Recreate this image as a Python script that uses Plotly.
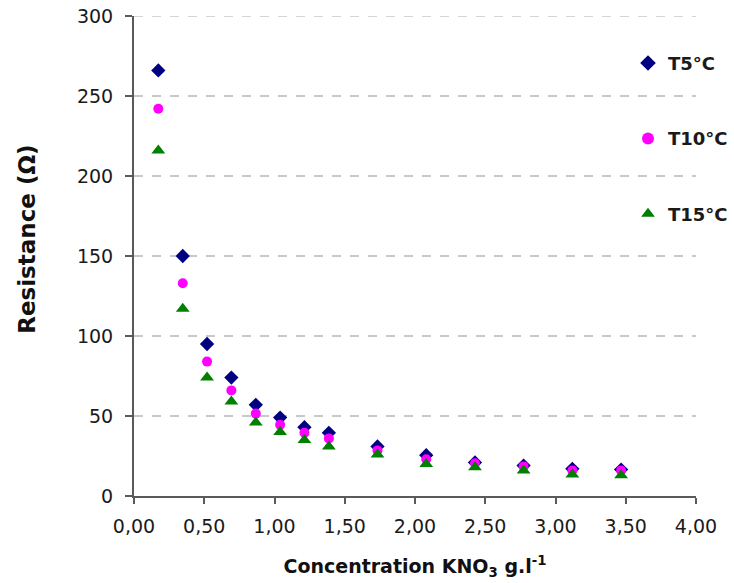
import plotly.graph_objects as go

# Concentration of KNO3 (g/l)
concentration = [0.173, 0.347, 0.520, 0.693, 0.867, 1.040, 1.213, 1.387,
                 1.733, 2.080, 2.427, 2.773, 3.120, 3.467]

# Measured resistance (ohm) at three temperatures
r_t5 = [266, 150, 95, 74, 57, 49, 43, 39.5, 31, 25.5, 21, 19, 17, 16.5]
r_t10 = [242, 133, 84, 66, 51.5, 44.5, 39.5, 36, 28.5, 23, 20.5, 18.5, 16, 16]
r_t15 = [216, 117, 74, 59, 46, 40, 35, 31, 26, 20, 18, 16, 13.5, 13]

series_names = ["T5°C", "T10°C", "T15°C"]
symbols = ["diamond", "circle", "triangle-up"]
colors = ["#000080", "#FF00FF", "#008000"]
sizes = [11, 10, 12]

x_ticks = [0, 0.5, 1, 1.5, 2, 2.5, 3, 3.5, 4]
y_ticks = [0, 50, 100, 150, 200, 250, 300]

FONT = "DejaVu Sans, Arial, sans-serif"
TEXT = "#1a1a1a"
AXIS = "#5a5a5a"
GRID = "#c8c8c8"

W, H = 734, 583
M = dict(l=134, r=38, t=16, b=86.5)

fig = go.Figure()
for name, vals, sym, col, sz in zip(series_names, [r_t5, r_t10, r_t15], symbols, colors, sizes):
    fig.add_trace(go.Scatter(
        x=concentration, y=vals, name=name, mode="markers",
        legendgroup=name,
        marker=dict(symbol=sym, size=sz, color=col, line=dict(width=0)),
    ))

# dashed gridline along the top of the value range
fig.add_hline(y=y_ticks[-1], line=dict(color=GRID, width=1.5, dash="dash"), layer="below")

# vertical axis title, placed in paper coordinates
plot_h = H - M["t"] - M["b"]
plot_w = W - M["l"] - M["r"]
fig.add_annotation(
    text="<b>Resistance (Ω)</b>", textangle=-90,
    xref="paper", yref="paper",
    x=(27 - M["l"]) / plot_w, y=(H - M["b"] - 240) / plot_h,
    xanchor="center", yanchor="middle", showarrow=False,
    font=dict(family=FONT, size=23, color="#111111"),
)

fig.update_layout(
    width=W, height=H,
    margin=dict(**M, autoexpand=False),
    paper_bgcolor="white", plot_bgcolor="white",
    separators=", ",
    font=dict(family=FONT, size=19, color=TEXT),
    showlegend=True,
    legend=dict(
        x=0.879, y=0.94, xanchor="left", yanchor="top",
        font=dict(family=FONT, size=18, color=TEXT, weight="bold"),
        tracegroupgap=49, bgcolor="rgba(0,0,0,0)",
        itemsizing="constant",
    ),
    xaxis=dict(
        range=[0, 4], tickvals=x_ticks, tickformat=".2f",
        showgrid=False, zeroline=False,
        showline=True, linecolor=AXIS, linewidth=2,
        ticks="outside", ticklen=6, tickwidth=1.5, tickcolor=AXIS,
        ticklabelstandoff=6,
        tickfont=dict(family=FONT, size=19, color=TEXT),
        title=dict(text="<b>Concentration KNO<sub>3</sub> g.l<sup>-1</sup></b>",
                   font=dict(family=FONT, size=19, color="#111111"), standoff=24),
    ),
    yaxis=dict(
        range=[0, 300], tickvals=y_ticks,
        showgrid=True, gridcolor=GRID, griddash="dash", gridwidth=1.5,
        zeroline=False,
        showline=True, linecolor=AXIS, linewidth=2,
        ticks="outside", ticklen=7, tickwidth=1.5, tickcolor=AXIS,
        ticklabelstandoff=8,
        tickfont=dict(family=FONT, size=19, color=TEXT),
    ),
)

fig.write_html("out.html")
